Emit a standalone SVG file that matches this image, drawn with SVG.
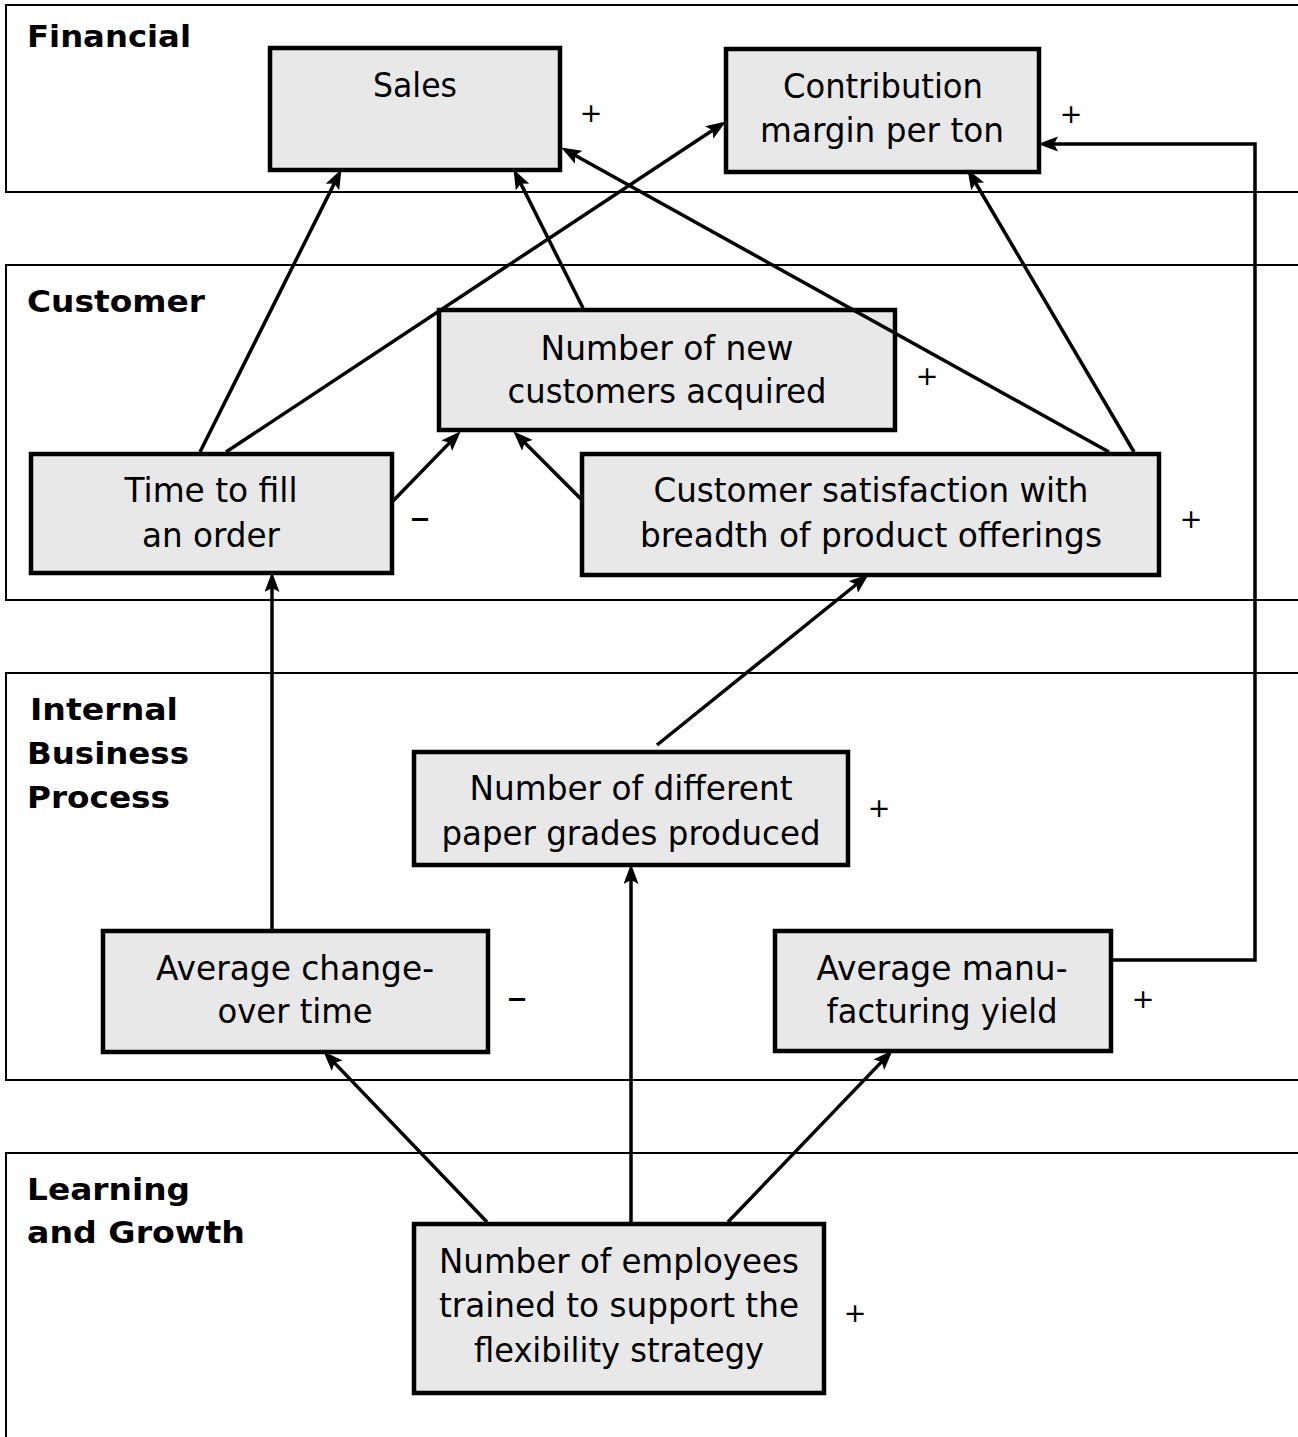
<svg xmlns="http://www.w3.org/2000/svg" width="1298" height="1437" viewBox="0 0 1298 1437">
<style>
.lane{fill:none;stroke:#000;stroke-width:2}
.box{fill:#e8e8e8;stroke:#000;stroke-width:4.5}
.t{font-family:"DejaVu Sans","Liberation Sans",sans-serif;font-size:33px;fill:#000;text-anchor:middle}
.lb{font-family:"DejaVu Sans","Liberation Sans",sans-serif;font-size:31px;font-weight:bold;fill:#000}
.sg{font-family:"DejaVu Sans","Liberation Sans",sans-serif;font-size:27px;fill:#000;text-anchor:middle}
.mn{font-family:"DejaVu Sans","Liberation Sans",sans-serif;font-size:40px;fill:#000;text-anchor:middle}
.c{fill:none;stroke:#000;stroke-width:3.5;marker-end:url(#ah)}
</style>
<defs>
<marker id="ah" markerUnits="userSpaceOnUse" markerWidth="22" markerHeight="16" refX="15" refY="7.5" orient="auto">
<path d="M0,0 L20,7.5 L0,15 L4,7.5 z" fill="#000"/>
</marker>
</defs>
<rect width="1298" height="1437" fill="#fff"/>
<g id="lanes">
<g id="lane-financial"><rect class="lane" x="6" y="5" width="1310" height="187"/><text class="lb" x="27" y="47" textLength="164" lengthAdjust="spacingAndGlyphs">Financial</text></g>
<g id="lane-customer"><rect class="lane" x="6" y="265" width="1310" height="335"/><text class="lb" x="27" y="312" textLength="178" lengthAdjust="spacingAndGlyphs">Customer</text></g>
<g id="lane-internal"><rect class="lane" x="6" y="673" width="1310" height="407"/><text class="lb" x="30" y="720" textLength="148" lengthAdjust="spacingAndGlyphs">Internal</text><text class="lb" x="27" y="764" textLength="162" lengthAdjust="spacingAndGlyphs">Business</text><text class="lb" x="27" y="808" textLength="143" lengthAdjust="spacingAndGlyphs">Process</text></g>
<g id="lane-learning"><rect class="lane" x="6" y="1153" width="1310" height="300"/><text class="lb" x="27" y="1200" textLength="163" lengthAdjust="spacingAndGlyphs">Learning</text><text class="lb" x="27" y="1243" textLength="218" lengthAdjust="spacingAndGlyphs">and Growth</text></g>
</g>
<g id="node-sales"><rect class="box" x="270" y="48" width="290" height="122"/><text class="t" x="415" y="97" textLength="84" lengthAdjust="spacingAndGlyphs">Sales</text><text class="sg" x="591" y="122">+</text></g>
<g id="node-contribution"><rect class="box" x="726" y="49" width="313" height="123"/><text class="t" x="883" y="98" textLength="200" lengthAdjust="spacingAndGlyphs">Contribution</text><text class="t" x="882" y="142" textLength="244" lengthAdjust="spacingAndGlyphs">margin per ton</text><text class="sg" x="1071" y="123">+</text></g>
<g id="node-newcustomers"><rect class="box" x="439" y="310" width="456" height="120"/><text class="t" x="667" y="360" textLength="253" lengthAdjust="spacingAndGlyphs">Number of new</text><text class="t" x="667" y="403" textLength="319" lengthAdjust="spacingAndGlyphs">customers acquired</text><text class="sg" x="927" y="385">+</text></g>
<g id="node-timetofill"><rect class="box" x="31" y="454" width="361" height="119"/><text class="t" x="211" y="502" textLength="173" lengthAdjust="spacingAndGlyphs">Time to fill</text><text class="t" x="211" y="547" textLength="138" lengthAdjust="spacingAndGlyphs">an order</text><text class="mn" x="420" y="531">–</text></g>
<g id="node-satisfaction"><rect class="box" x="582" y="454" width="577" height="121"/><text class="t" x="871" y="502" textLength="435" lengthAdjust="spacingAndGlyphs">Customer satisfaction with</text><text class="t" x="871" y="547" textLength="462" lengthAdjust="spacingAndGlyphs">breadth of product offerings</text><text class="sg" x="1191" y="528">+</text></g>
<g id="node-papergrades"><rect class="box" x="414" y="752" width="434" height="113"/><text class="t" x="631" y="800" textLength="323" lengthAdjust="spacingAndGlyphs">Number of different</text><text class="t" x="631" y="845" textLength="379" lengthAdjust="spacingAndGlyphs">paper grades produced</text><text class="sg" x="879" y="817">+</text></g>
<g id="node-changeover"><rect class="box" x="103" y="931" width="385" height="121"/><text class="t" x="295" y="980" textLength="278" lengthAdjust="spacingAndGlyphs">Average change-</text><text class="t" x="295" y="1023" textLength="155" lengthAdjust="spacingAndGlyphs">over time</text><text class="mn" x="517" y="1011">–</text></g>
<g id="node-yield"><rect class="box" x="775" y="931" width="336" height="120"/><text class="t" x="942" y="980" textLength="251" lengthAdjust="spacingAndGlyphs">Average manu-</text><text class="t" x="942" y="1023" textLength="231" lengthAdjust="spacingAndGlyphs">facturing yield</text><text class="sg" x="1143" y="1008">+</text></g>
<g id="node-employees"><rect class="box" x="414" y="1224" width="410" height="169"/><text class="t" x="619" y="1273" textLength="360" lengthAdjust="spacingAndGlyphs">Number of employees</text><text class="t" x="619" y="1317" textLength="360" lengthAdjust="spacingAndGlyphs">trained to support the</text><text class="t" x="619" y="1362" textLength="290" lengthAdjust="spacingAndGlyphs">flexibility strategy</text><text class="sg" x="855" y="1322">+</text></g>
<g id="connectors">
<line class="c" x1="200" y1="452" x2="339.2" y2="173.6"/>
<line class="c" x1="226" y1="452" x2="721.7" y2="124.2"/>
<line class="c" x1="393" y1="501" x2="457.2" y2="434.9"/>
<line class="c" x1="583" y1="501" x2="516.8" y2="434.8"/>
<line class="c" x1="583" y1="308" x2="515.8" y2="173.6"/>
<line class="c" x1="1109" y1="452" x2="565.5" y2="150"/>
<line class="c" x1="1134" y1="452" x2="970" y2="173.5"/>
<line class="c" x1="272" y1="929" x2="272" y2="577"/>
<line class="c" x1="657" y1="745" x2="864.9" y2="577.5"/>
<polyline class="c" points="1113,960 1255,960 1255,144 1043,144"/>
<line class="c" x1="487" y1="1222" x2="326.8" y2="1054.9"/>
<line class="c" x1="631" y1="1222" x2="631" y2="869"/>
<line class="c" x1="728" y1="1222" x2="889.2" y2="1053.9"/>
</g>
</svg>
